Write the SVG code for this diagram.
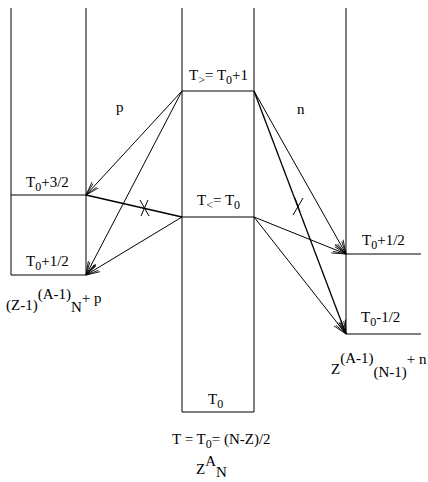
<svg xmlns="http://www.w3.org/2000/svg" width="428" height="482" viewBox="0 0 428 482">
<defs>
<marker id="arr" markerUnits="userSpaceOnUse" markerWidth="16" markerHeight="12" refX="14" refY="6" orient="auto" viewBox="0 0 16 12">
<path d="M0,1.5 L14,6 L0,10.5 M1,3.5 L14,6 L1,8.5" fill="none" stroke="#000" stroke-width="0.8"/>
</marker>
<style>
.ln{stroke:#000;stroke-width:1;fill:none}
.ar{stroke:#000;stroke-width:1;fill:none;marker-end:url(#arr)}
.tk{stroke:#000;stroke-width:1.3;fill:none}
text{font-family:"Liberation Serif","Times New Roman",serif;font-size:15px;fill:#000}
.s{font-size:12px}
</style>
</defs>
<rect width="428" height="482" fill="#fff"/>
<g id="left-nucleus">
<path class="ln" d="M11,8 V275 H86 V8 M11,195 H86"/>
<text x="26" y="187">T<tspan class="s" dy="4">0</tspan><tspan dy="-4">+3/2</tspan></text>
<text x="26" y="266">T<tspan class="s" dy="4">0</tspan><tspan dy="-4">+1/2</tspan></text>
<text x="6" y="310">(Z-1)<tspan dy="-11">(A-1)</tspan><tspan dy="13">N</tspan><tspan dy="-9">+ p</tspan></text>
</g>
<g id="center-nucleus">
<path class="ln" d="M182,8 V412 H254 V8 M182,91 H254 M182,217 H254"/>
<text x="189" y="80">T<tspan class="s" dy="4">&gt;</tspan><tspan dy="-4">= T</tspan><tspan class="s" dy="4">0</tspan><tspan dy="-4">+1</tspan></text>
<text x="197" y="205">T<tspan class="s" dy="4">&lt;</tspan><tspan dy="-4">= T</tspan><tspan class="s" dy="4">0</tspan></text>
<text x="208" y="404">T<tspan class="s" dy="4">0</tspan></text>
<text x="172" y="444">T = T<tspan class="s" dy="4">0</tspan><tspan dy="-4">= (N-Z)/2</tspan></text>
<text x="196" y="474">Z<tspan dy="-8">A</tspan><tspan dy="11">N</tspan></text>
</g>
<g id="right-nucleus">
<path class="ln" d="M346,8 V334 M346,254 H421 M346,334 H421"/>
<text x="362" y="245">T<tspan class="s" dy="4">0</tspan><tspan dy="-4">+1/2</tspan></text>
<text x="361" y="322">T<tspan class="s" dy="4">0</tspan><tspan dy="-4">-1/2</tspan></text>
<text x="331" y="374">Z<tspan dy="-11">(A-1)</tspan><tspan dy="14">(N-1)</tspan><tspan dy="-13">+ n</tspan></text>
</g>
<g id="labels">
<text x="116" y="112">p</text>
<text x="297" y="114">n</text>
</g>
<g id="connectors">
<line class="ar" x1="182" y1="91" x2="86" y2="195"/>
<line class="ar" x1="182" y1="91" x2="86" y2="275"/>
<line class="ar" x1="182" y1="217" x2="86" y2="275"/>
<line class="tk" x1="86" y1="195" x2="182" y2="217"/>
<path class="ln" d="M140,200 L149,216 M148,200 L141,216"/>
<line class="ar" x1="254" y1="91" x2="346" y2="254"/>
<line class="ar" x1="254" y1="91" x2="346" y2="334" style="stroke-width:1.3"/>
<line class="ar" x1="254" y1="217" x2="346" y2="254"/>
<line class="ar" x1="254" y1="217" x2="346" y2="334"/>
<path class="ln" d="M293,215 L303,198 M295,198 L300,212"/>
</g>
</svg>
